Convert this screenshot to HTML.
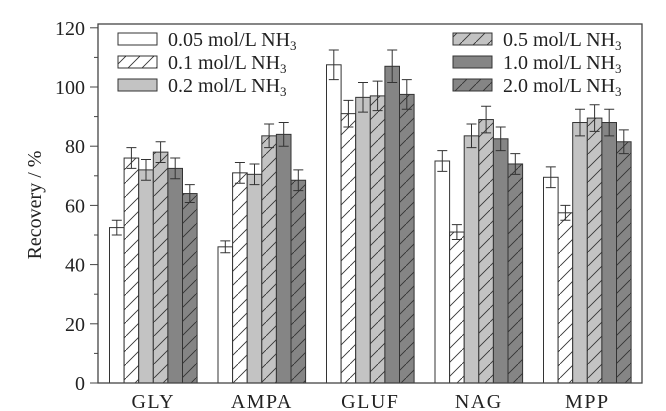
<!DOCTYPE html>
<html><head><meta charset="utf-8"><style>
body{margin:0;background:#fff}
svg{display:block;font-family:"Liberation Serif","DejaVu Serif",serif}
</style></head><body>
<svg id="chart" width="666" height="411" viewBox="0 0 666 411" xmlns="http://www.w3.org/2000/svg">
<defs>
<pattern id="h-white" patternUnits="userSpaceOnUse" width="14" height="14"><rect width="14" height="14" fill="#fff"/><path d="M-1,15 L15,-1" stroke="#333" stroke-width="0.9"/></pattern>
<pattern id="h-light" patternUnits="userSpaceOnUse" width="14" height="14"><rect width="14" height="14" fill="#c3c3c3"/><path d="M-1,15 L15,-1" stroke="#333" stroke-width="0.9"/></pattern>
<pattern id="h-dark" patternUnits="userSpaceOnUse" width="14" height="14"><rect width="14" height="14" fill="#858585"/><path d="M-1,15 L15,-1" stroke="#333" stroke-width="0.9"/></pattern>
</defs>
<g id="bars"></g>
<g id="axes"></g>
<g id="legend"></g>
</svg>
<script>
const categories = ["GLY","AMPA","GLUF","NAG","MPP"];
const seriesNames = ["0.05 mol/L NH","0.1 mol/L NH","0.2 mol/L NH","0.5 mol/L NH","1.0 mol/L NH","2.0 mol/L NH"];
const s005 = [52.5, 46, 107.5, 75, 69.5];
const s01 = [76, 71, 91, 51, 57.5];
const s02 = [72, 70.5, 96.5, 83.5, 88];
const s05 = [78, 83.5, 97, 89, 89.5];
const s10 = [72.5, 84, 107, 82.5, 88];
const s20 = [64, 68.5, 97.5, 74, 81.5];
const e005 = [2.5, 2, 5, 3.5, 3.5];
const e01 = [3.5, 3.5, 4.5, 2.5, 2.5];
const e02 = [3.5, 3.5, 5, 4, 4.5];
const e05 = [3.5, 4, 5, 4.5, 4.5];
const e10 = [3.5, 4, 5.5, 4, 4.5];
const e20 = [3, 3.5, 5, 3.5, 4];
const yTicks = [0,20,40,60,80,100,120];

const series=[s005,s01,s02,s05,s10,s20];
const errs=[e005,e01,e02,e05,e10,e20];
const fills=["#fff","url(#h-white)","#c3c3c3","url(#h-light)","#858585","url(#h-dark)"];
const NS="http://www.w3.org/2000/svg";
const X0=98,X1=642,Y0=383,YT=24;
const yS=v=>Y0-v*2.96;
const groupStart=i=>109.5+i*108.5;
const BW=14.6;
function mk(tag,attrs,parent){const e=document.createElementNS(NS,tag);for(const k in attrs)e.setAttribute(k,attrs[k]);parent.appendChild(e);return e;}
const gb=document.getElementById('bars'),ga=document.getElementById('axes'),gl=document.getElementById('legend');
categories.forEach((c,i)=>{
  series.forEach((s,j)=>{
    const x=groupStart(i)+j*BW,v=s[i],y=yS(v);
    const r=mk('rect',{x:x,y:y,width:BW,height:Y0-y,fill:fills[j],stroke:'#333','stroke-width':1},gb);
    
    
    const cx=x+BW/2,yt=yS(v+errs[j][i]),yb=yS(v-errs[j][i]);
    const p=mk('path',{d:`M${cx},${yt}V${yb}M${cx-5},${yt}H${cx+5}M${cx-5},${yb}H${cx+5}`,stroke:'#333','stroke-width':1,fill:'none'},gb);
    
    
  });
  const t=mk('text',{x:groupStart(i)+3*BW,y:408,'text-anchor':'middle','font-size':20,'letter-spacing':1.5,fill:'#222'},ga);
  t.textContent=c;
  
  
});
const fr=mk('rect',{x:X0,y:YT,width:X1-X0,height:Y0-YT,fill:'none',stroke:'#444','stroke-width':1.3},ga);


for(let v=0;v<=120;v+=10){
  const y=yS(v),major=v%20===0;
  mk('line',{x1:major?90:94,x2:X0,y1:y,y2:y,stroke:'#444','stroke-width':1},ga);
}
yTicks.forEach(v=>{
  const t=mk('text',{x:85,y:yS(v)+7,'text-anchor':'end','font-size':20,fill:'#222'},ga);
  t.textContent=v;
  
  
});
const yt=mk('text',{transform:'translate(41,205) rotate(-90)','text-anchor':'middle','font-size':20,fill:'#222'},ga);
yt.textContent='Recovery / %';


seriesNames.forEach((n,j)=>{
  const col=j<3?0:1,row=j%3;
  const bx=col?453:118,by=33+row*23;
  const r=mk('rect',{x:bx,y:by,width:39,height:12,fill:fills[j],stroke:'#333','stroke-width':1},gl);
  
  
  const t=mk('text',{x:bx+50,y:by+13,'font-size':20,fill:'#222'},gl);
  t.textContent=n;
  const sub=mk('tspan',{dy:4,'font-size':13},t);sub.textContent='3';
  
  
});
</script>
</body></html>
